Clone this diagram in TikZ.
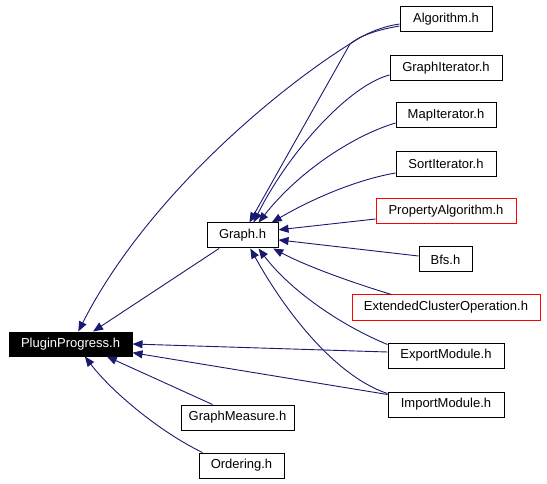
\documentclass[tikz,border=0pt]{standalone}
\usepackage{fontspec}
\setmainfont{Liberation Sans}
\usetikzlibrary{arrows.meta}
\definecolor{edgeblue}{RGB}{25,25,112}
\begin{document}
\begin{tikzpicture}[x=1pt,y=-1pt,
  filebox/.style={draw=black, line width=1pt, minimum height=25pt, inner sep=0pt,
    font=\fontsize{13}{15}\selectfont},
  redbox/.style={filebox, draw=red},
  dep/.style={draw=edgeblue, line width=0.9pt, -{Triangle[length=10pt,width=8pt]}}]
\useasboundingbox (0,0) rectangle (547,484);
% nodes
\node[filebox, minimum width=123pt, minimum height=24pt, fill=black, text=white] (pp) at (70.5,344) {PluginProgress.h};
\node[filebox, minimum width=71pt] (graph) at (242.5,235.5) {Graph.h};
\node[filebox, minimum width=92pt] (alg) at (446,19.5) {Algorithm.h};
\node[filebox, minimum width=112pt] (gi) at (446,68.5) {GraphIterator.h};
\node[filebox, minimum width=100pt] (mi) at (446,115.5) {MapIterator.h};
\node[filebox, minimum width=100pt] (si) at (446,164) {SortIterator.h};
\node[redbox, minimum width=140pt] (pa) at (446,211.5) {PropertyAlgorithm.h};
\node[filebox, minimum width=53pt] (bfs) at (445.5,259.5) {Bfs.h};
\node[redbox, minimum width=188pt] (eco) at (446,307.5) {ExtendedClusterOperation.h};
\node[filebox, minimum width=116pt] (em) at (446,355.5) {ExportModule.h};
\node[filebox, minimum width=116pt] (im) at (446,404.5) {ImportModule.h};
\node[filebox, minimum width=113pt] (gm) at (237.5,417.5) {GraphMeasure.h};
\node[filebox, minimum width=85pt] (ord) at (241.5,465.5) {Ordering.h};
% edges to Graph.h
\draw[dep] ([yshift=-4.5]alg.west) .. controls (385,26) and (368,32) .. (353,42) .. controls (275,90) and (145,200) .. (pp.58);
\draw[dep] ([yshift=-6.5]alg.west) .. controls (382,29) and (362,34) .. (350,44) -- (graph.62);
\draw[dep] ([yshift=-6.5]gi.west) .. controls (350,85) and (290,150) .. (graph.50);
\draw[dep] ([yshift=-7.5]mi.west) .. controls (355,135) and (300,170) .. (graph.39);
\draw[dep] ([yshift=-9]si.west) .. controls (355,180) and (310,200) .. (graph.24);
\draw[dep] ([yshift=-7.5]pa.west) -- (graph.9);
\draw[dep] ([yshift=3.5]bfs.west) -- (graph.-7);
\draw[dep] ([xshift=40]eco.north west) .. controls (360,285) and (310,268) .. (graph.-23);
\draw[dep] ([yshift=-2]em.north west) .. controls (340,325) and (290,290) .. (graph.-39);
\draw[dep] ([yshift=-2]im.north west) .. controls (340,378) and (290,320) .. (graph.-59);
% edges to PluginProgress.h
\draw[dep] (graph.209) -- (pp.29);
\draw[dep] ([yshift=3.5]em.west) -- (pp.east);
\draw[dep] ([yshift=-3]im.north west) -- (pp.-8);
\draw[dep] ([xshift=32]gm.north west) -- (pp.-19);
\draw[dep] ([xshift=4]ord.north west) .. controls (160,432) and (112,392) .. (pp.-41);
\end{tikzpicture}
\end{document}
